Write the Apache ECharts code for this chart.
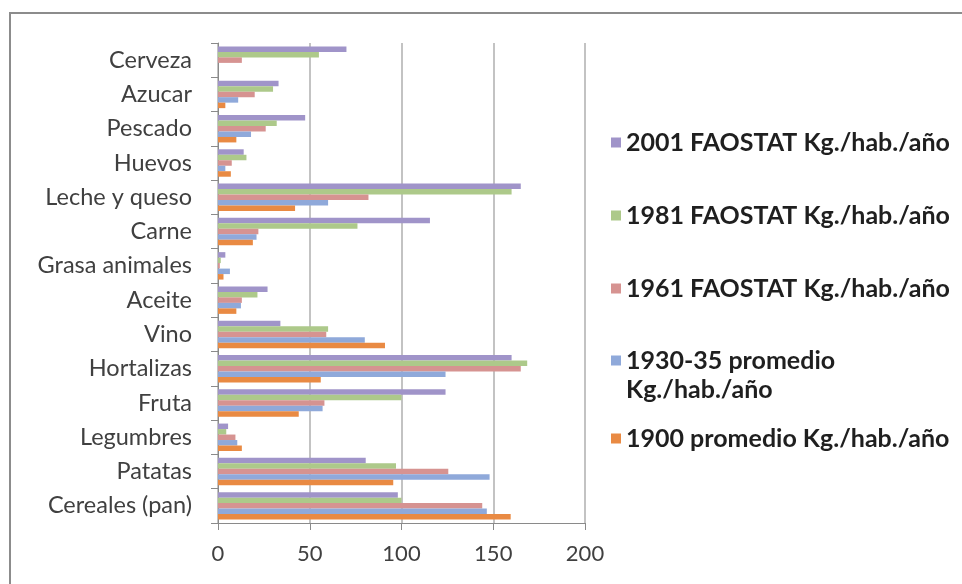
<!DOCTYPE html>
<html>
<head>
<meta charset="utf-8">
<script src="https://cdn.jsdelivr.net/npm/echarts@6/dist/echarts.min.js"></script>
<style>
  html, body { margin: 0; padding: 0; background: #ffffff; }
  #chart { width: 962px; height: 584px; }
</style>
</head>
<body>
<div id="chart"></div>
<script>
// Food consumption per inhabitant in Spain (kg per person per year)
// Categories listed bottom to top
const categories = ['Cereales (pan)', 'Patatas', 'Legumbres', 'Fruta', 'Hortalizas', 'Vino', 'Aceite',
  'Grasa animales', 'Carne', 'Leche y queso', 'Huevos', 'Pescado', 'Azucar', 'Cerveza'];

const names = {
  y1900: '1900 promedio Kg./hab./año',
  y1930: '1930-35 promedio Kg./hab./año',
  y1961: '1961 FAOSTAT Kg./hab./año',
  y1981: '1981 FAOSTAT Kg./hab./año',
  y2001: '2001 FAOSTAT Kg./hab./año'
};

const v1900 = [159.5, 95.5, 13, 44, 56, 91, 10, 3, 19, 42, 7, 10, 4, null];
const v1930 = [146.5, 148, 10.5, 57, 124, 80, 12.5, 6.5, 21, 60, 4, 18, 11, null];
const v1961 = [144, 125.5, 9.5, 58, 165, 59, 13, 1, 22, 82, 7.5, 26, 20, 13];
const v1981 = [100, 97, 4.5, 100, 168.5, 60, 21.5, 1.5, 76, 160, 15.5, 32, 30, 55];
const v2001 = [98, 80.5, 5.5, 124, 160, 34, 27, 4, 115.5, 165, 14, 47.5, 33, 70];

const xTicks = [0, 50, 100, 150, 200];

const colors = {
  y1900: '#e98a43',
  y1930: '#8fa9da',
  y1961: '#d69391',
  y1981: '#adc98a',
  y2001: '#a094c9'
};

const FONT = 'Lato, "Open Sans", sans-serif';

function bar(key, values) {
  return {
    name: names[key],
    type: 'bar',
    data: values,
    barGap: '0%',
    barCategoryGap: '20%',
    itemStyle: { color: colors[key] },
    emphasis: { disabled: true }
  };
}

// one legend block per series so each entry sits at its own height;
// the wrapped entry gets an empty leading line so its marker lines up with the first line
const legendOrder = ['y2001', 'y1981', 'y1961', 'y1930', 'y1900'];
const legendTops = [123, 196, 269, 312, 419];
const legends = legendOrder.map((key, i) => ({
  data: [names[key]],
  orient: 'vertical',
  left: 606,
  top: legendTops[i],
  icon: 'rect',
  itemWidth: 10,
  itemHeight: 10,
  itemGap: 0,
  selectedMode: false,
  formatter: (n) => n === names.y1930 ? '\n1930-35 promedio\nKg./hab./año' : n,
  textStyle: {
    fontFamily: FONT,
    fontWeight: 'bold',
    fontSize: 25,
    color: '#1f1f1f',
    lineHeight: 29
  }
}));

const chart = echarts.init(document.getElementById('chart'), null, { renderer: 'canvas' });
chart.setOption({
  animation: false,
  backgroundColor: '#ffffff',
  graphic: [{
    type: 'rect',
    shape: { x: 10, y: 13, width: 1000, height: 700 },
    style: { fill: 'none', stroke: '#8c8c8c', lineWidth: 2 },
    silent: true
  }],
  legend: legends,
  grid: { left: 218, top: 43, width: 367, height: 480, containLabel: false },
  xAxis: {
    type: 'value',
    min: xTicks[0],
    max: xTicks[xTicks.length - 1],
    interval: 50,
    axisLine: { show: true, lineStyle: { color: '#8a8a8a', width: 1 } },
    axisTick: { show: true, length: 7, lineStyle: { color: '#8a8a8a' } },
    splitLine: { show: true, lineStyle: { color: '#c3c3c3', width: 2 } },
    axisLabel: { fontFamily: FONT, fontSize: 22, color: '#404040', margin: 20 }
  },
  yAxis: {
    type: 'category',
    data: categories,
    axisLine: { show: true, lineStyle: { color: '#8a8a8a', width: 1 } },
    axisTick: { show: true, length: 7, lineStyle: { color: '#8a8a8a' } },
    splitLine: { show: false },
    axisLabel: { fontFamily: FONT, fontSize: 23.5, color: '#404040', margin: 26 }
  },
  series: [
    bar('y2001', v2001),
    bar('y1981', v1981),
    bar('y1961', v1961),
    bar('y1930', v1930),
    bar('y1900', v1900)
  ]
});
</script>
</body>
</html>
